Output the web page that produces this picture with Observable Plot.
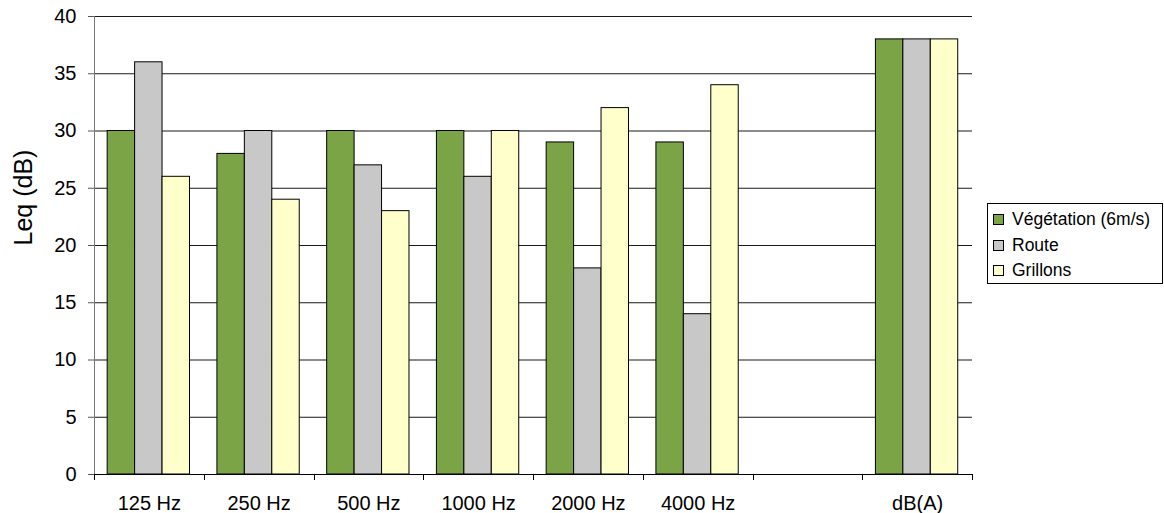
<!DOCTYPE html>
<html>
<head>
<meta charset="utf-8">
<script src="https://cdn.jsdelivr.net/npm/d3@7"></script>
<script src="https://cdn.jsdelivr.net/npm/@observablehq/plot@0.6"></script>
<style>
  html, body { margin: 0; padding: 0; background: #fff; }
  #wrap { position: relative; width: 1164px; height: 513px; font-family: "Liberation Sans", Arial, sans-serif; }
  #legend { position: absolute; left: 987px; top: 203px; width: 176px; height: 81px; border: 1px solid #000; background: #fff; box-sizing: border-box; padding-top: 3px; }
  .item { display: flex; align-items: center; height: 25.5px; font-size: 17.5px; color: #000; }
  .sw { width: 9px; height: 9px; border: 1px solid #000; margin-left: 5px; margin-right: 8px; flex: none; }
</style>
</head>
<body>
<div id="wrap"><div id="chart"></div><div id="legend"></div></div>
<script>
const categories = ["125 Hz", "250 Hz", "500 Hz", "1000 Hz", "2000 Hz", "4000 Hz", " ", "dB(A)"];
const seriesNames = ["Végétation (6m/s)", "Route", "Grillons"];
const vegetation = [30, 28, 30, 30, 29, 29, null, 38];
const route      = [36, 30, 27, 26, 18, 14, null, 38];
const grillons   = [26, 24, 23, 30, 32, 34, null, 38];
const colors = ["#7ba446", "#c8c8c8", "#ffffcc"];
const yTicks = [0, 5, 10, 15, 20, 25, 30, 35, 40];

const seriesValues = [vegetation, route, grillons];
const data = seriesValues.map((vals, s) =>
  categories.map((c, i) => ({category: c, series: seriesNames[s], value: vals[i]})).filter(d => d.value != null)
);

const W = 1164, H = 513;
const mL = 94, mR = 192, mT = 16, mB = 39;
const bw = (W - mL - mR) / categories.length;

const barMarks = data.map((d, i) => Plot.barY(d, {
  x: "category", y: "value", fill: colors[i], stroke: "#000", strokeWidth: 1,
  insetLeft: bw * (0.12 + 0.25 * i), insetRight: bw * (0.63 - 0.25 * i)
}));

const plot = Plot.plot({
  width: W, height: H,
  marginLeft: mL, marginRight: mR, marginTop: mT, marginBottom: mB,
  style: {fontFamily: '"Liberation Sans", Arial, sans-serif', background: "#fff", color: "#000"},
  x: {type: "band", domain: categories, padding: 0, round: false},
  y: {domain: [0, 40], ticks: yTicks},
  marks: [
    Plot.gridY(yTicks, {stroke: "#000", strokeOpacity: 0.9}),
    ...barMarks,
    Plot.ruleY([0], {stroke: "#000"}),
    Plot.axisY(yTicks, {tickSize: 6, tickPadding: 12, fontSize: 20, stroke: "#555", label: null}),
    Plot.axisX({tickSize: 0, tickPadding: 21, fontSize: 20, label: null}),
    Plot.text(["Leq (dB)"], {frameAnchor: "left", dx: -71, rotate: -90, fontSize: 25, text: d => d})
  ]
});

// left axis line and category boundary ticks, positioned from Plot's own x and y scales
const xs = plot.scale("x"), ys = plot.scale("y");
const svg = d3.select(plot);
const y0 = ys.apply(0), y40 = ys.apply(40);
const bounds = categories.map(c => xs.apply(c));
bounds.push(xs.apply(categories[categories.length - 1]) + xs.bandwidth);
svg.append("line").attr("x1", Math.round(bounds[0]) + 0.5).attr("x2", Math.round(bounds[0]) + 0.5).attr("y1", y40).attr("y2", y0).attr("stroke", "#777");
svg.append("g").selectAll("line").data(bounds).join("line")
  .attr("x1", d => Math.round(d) + 0.5).attr("x2", d => Math.round(d) + 0.5)
  .attr("y1", y0).attr("y2", y0 + 6).attr("stroke", "#000");

document.getElementById("chart").appendChild(plot);

const legend = d3.select("#legend");
seriesNames.forEach((n, i) => {
  const it = legend.append("div").attr("class", "item");
  it.append("div").attr("class", "sw").style("background", colors[i]);
  it.append("span").text(n);
});
</script>
</body>
</html>
